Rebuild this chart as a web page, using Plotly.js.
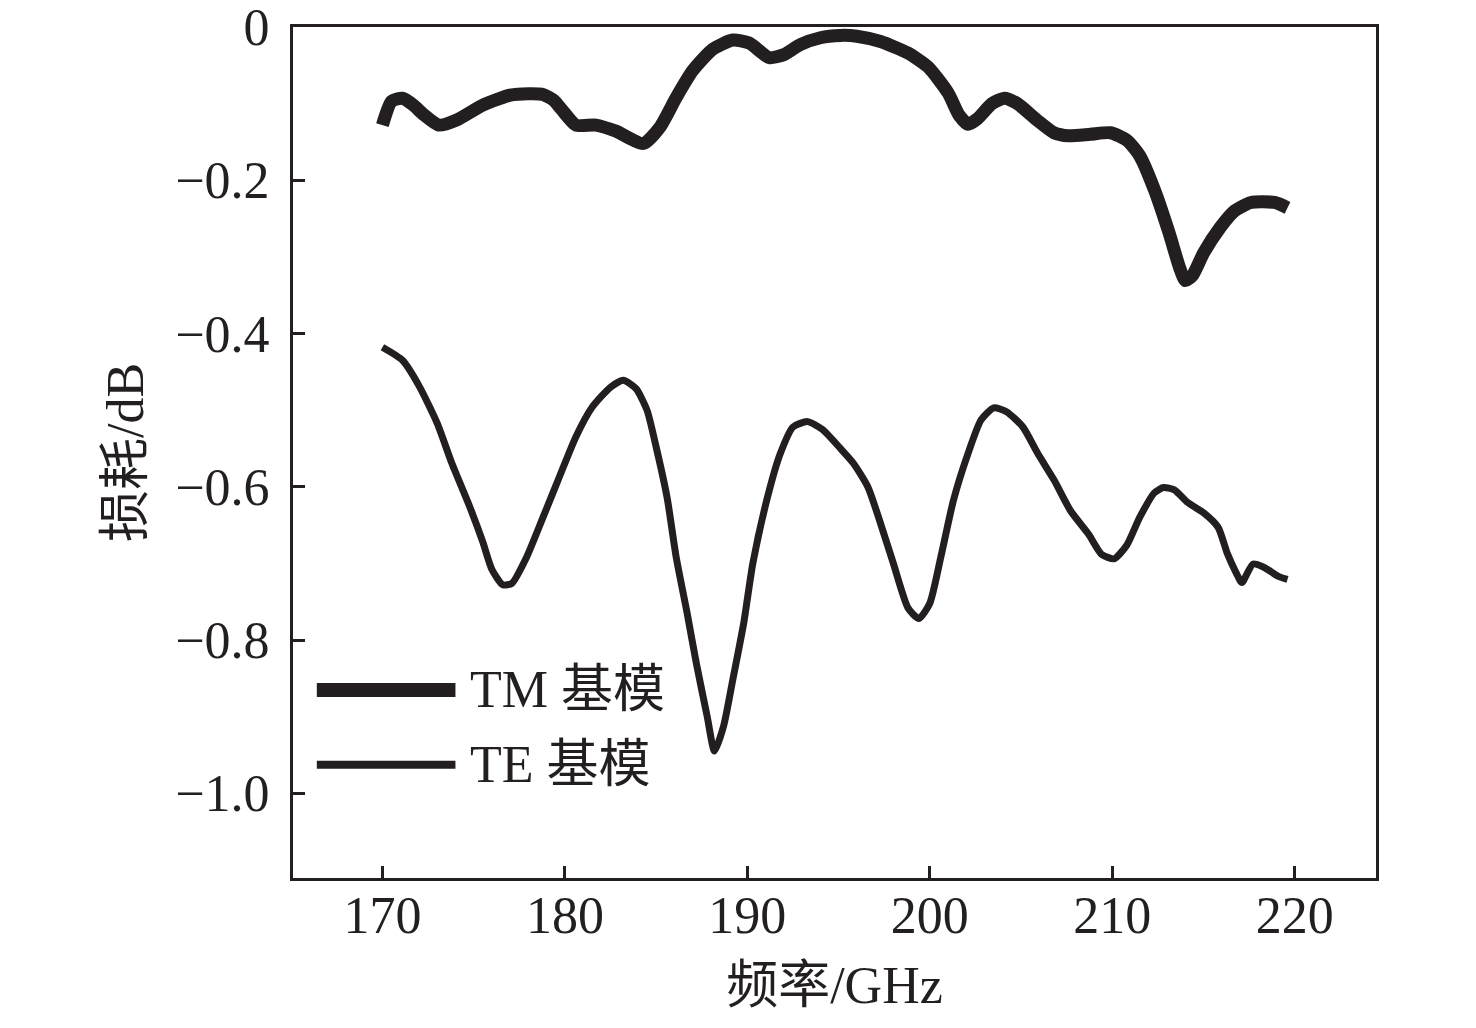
<!DOCTYPE html>
<html>
<head>
<meta charset="utf-8">
<script src="https://cdn.plot.ly/plotly-3.0.1.min.js"></script>
<style>
  html, body { margin: 0; padding: 0; background: #fff; }
  #chart { width: 1476px; height: 1028px; }
</style>
</head>
<body>
<div id="chart"></div>
<script>
// values
var tmFreq = [170.0, 170.5, 171.1, 171.7, 172.2, 173.1, 174.1, 175.5, 177.0, 178.0,
  178.8, 179.4, 179.8, 180.6, 181.7, 182.8, 184.3, 185.2, 186.1, 187.0,
  188.1, 189.2, 190.1, 191.2, 192.0, 192.9, 194.0, 195.1, 196.0, 197.3,
  198.8, 199.9, 201.0, 201.6, 202.1, 202.6, 203.4, 204.1, 204.8, 205.9,
  206.8, 207.6, 208.8, 209.9, 210.8, 211.5, 212.3, 213.1, 213.7, 214.0,
  214.4, 215.0, 215.9, 216.7, 217.6, 218.9, 219.6];
var tmLoss = [-0.128, -0.097, -0.093, -0.102, -0.113, -0.128, -0.121, -0.102, -0.089, -0.087,
  -0.088, -0.096, -0.107, -0.128, -0.128, -0.136, -0.152, -0.131, -0.092, -0.057,
  -0.029, -0.017, -0.021, -0.040, -0.036, -0.023, -0.014, -0.011, -0.012, -0.019,
  -0.034, -0.052, -0.086, -0.115, -0.127, -0.120, -0.100, -0.093, -0.100, -0.122,
  -0.138, -0.142, -0.140, -0.138, -0.148, -0.168, -0.212, -0.268, -0.315, -0.331,
  -0.324, -0.295, -0.262, -0.240, -0.229, -0.229, -0.236];

var teFreq = [170.0, 171.1, 172.0, 173.0, 173.8, 174.8, 175.5, 176.0, 176.6, 177.1,
  177.9, 178.8, 179.7, 180.6, 181.5, 182.5, 183.2, 183.9, 184.5, 185.0,
  185.6, 186.1, 186.7, 187.2, 187.8, 188.2, 188.7, 189.2, 189.8, 190.3,
  191.1, 191.8, 192.5, 193.3, 194.1, 195.1, 195.8, 196.6, 197.3, 198.0,
  198.8, 199.4, 200.0, 200.6, 201.3, 202.1, 202.8, 203.5, 204.2, 205.1,
  205.9, 206.8, 207.7, 208.7, 209.4, 210.1, 210.8, 211.5, 212.3, 212.8,
  213.4, 214.1, 215.0, 215.8, 216.3, 216.8, 217.1, 217.7, 218.3, 219.1, 219.6];
var teLoss = [-0.418, -0.435, -0.468, -0.517, -0.569, -0.627, -0.672, -0.708, -0.728, -0.726,
  -0.692, -0.640, -0.587, -0.535, -0.496, -0.470, -0.461, -0.472, -0.500, -0.548,
  -0.614, -0.692, -0.765, -0.830, -0.900, -0.945, -0.912, -0.852, -0.778, -0.700,
  -0.614, -0.557, -0.522, -0.515, -0.525, -0.550, -0.569, -0.600, -0.648, -0.700,
  -0.758, -0.772, -0.752, -0.692, -0.617, -0.556, -0.513, -0.497, -0.502, -0.522,
  -0.556, -0.591, -0.631, -0.662, -0.688, -0.694, -0.676, -0.640, -0.608, -0.601,
  -0.604, -0.620, -0.634, -0.653, -0.687, -0.713, -0.725, -0.701, -0.705, -0.717, -0.721];

var seriesNames = ['TM 基模', 'TE 基模'];
var xTicks = [170, 180, 190, 200, 210, 220];
var yTicks = [0, -0.2, -0.4, -0.6, -0.8, -1.0];
var yTickText = ['0', '\u22120.2', '\u22120.4', '\u22120.6', '\u22120.8', '\u22121.0'];

var ink = '#231f20';
var serif = '"Liberation Serif", "Times New Roman", "Noto Sans CJK SC", serif';
var fs = 52;

var tm = {
  x: tmFreq, y: tmLoss, name: seriesNames[0],
  mode: 'lines', type: 'scatter',
  line: {color: ink, width: 13, shape: 'spline', smoothing: 0.6}
};
var te = {
  x: teFreq, y: teLoss, name: seriesNames[1],
  mode: 'lines', type: 'scatter',
  line: {color: ink, width: 7, shape: 'spline', smoothing: 0.6}
};

// legend drawn by hand so the sample lines can be long
var legendRows = [
  {y: 0.221, w: 14},
  {y: 0.133, w: 8}
];
var shapes = legendRows.map(function (r) {
  return {type: 'line', xref: 'paper', yref: 'paper',
    x0: 0.022, x1: 0.150, y0: r.y, y1: r.y,
    line: {color: ink, width: r.w}};
});
var annotations = legendRows.map(function (r, i) {
  return {xref: 'paper', yref: 'paper', x: 0.162, y: r.y,
    xanchor: 'left', yanchor: 'middle', showarrow: false,
    text: seriesNames[i], font: {family: serif, size: fs, color: ink}};
});

var layout = {
  width: 1476, height: 1028,
  margin: {l: 293, r: 100, t: 27, b: 150},
  paper_bgcolor: '#fff', plot_bgcolor: '#fff',
  showlegend: false,
  font: {family: serif, size: fs, color: ink},
  xaxis: {
    range: [165.1, 224.45],
    tickvals: xTicks, ticktext: xTicks.map(String),
    ticks: 'inside', ticklen: 12, tickwidth: 3, tickcolor: ink,
    showline: true, linewidth: 3, linecolor: ink, mirror: true,
    showgrid: false, zeroline: false,
    tickfont: {family: serif, size: fs, color: ink},
    ticklabelstandoff: -10,
    title: {text: '频率/GHz', font: {family: serif, size: fs, color: ink}, standoff: 24}
  },
  yaxis: {
    range: [-1.1106, 0],
    tickvals: yTicks, ticktext: yTickText,
    ticks: 'inside', ticklen: 12, tickwidth: 3, tickcolor: ink,
    showline: true, linewidth: 3, linecolor: ink, mirror: true,
    showgrid: false, zeroline: false,
    tickfont: {family: serif, size: fs, color: ink},
    ticklabelstandoff: 10,
    ticklabeloverflow: 'allow',
    title: {text: '损耗/dB', font: {family: serif, size: fs, color: ink}, standoff: 16}
  },
  shapes: shapes,
  annotations: annotations
};

Plotly.newPlot('chart', [tm, te], layout, {displayModeBar: false, staticPlot: true});
</script>
</body>
</html>
